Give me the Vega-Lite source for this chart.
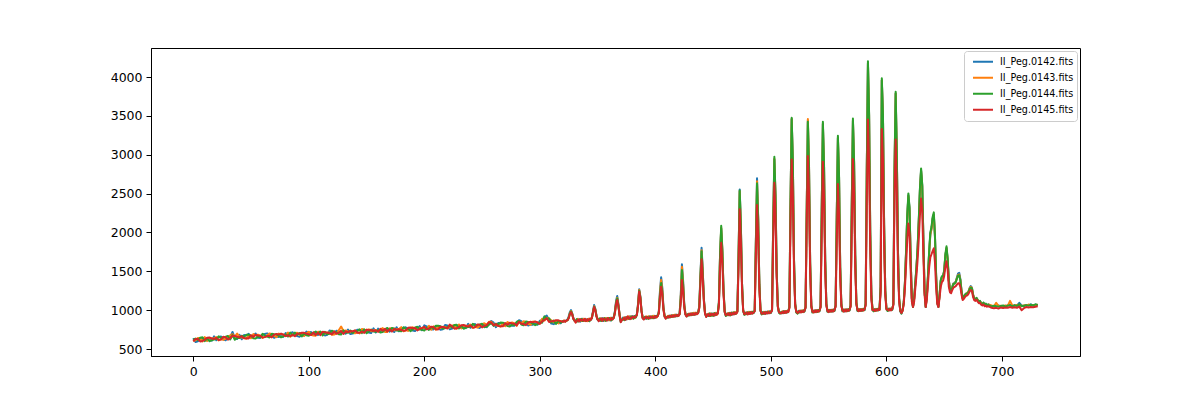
{
"$schema":"https://vega.github.io/schema/vega-lite/v6.json",
"autosize":{"type":"none"},
"width":929,"height":308,
"padding":{"left":151,"top":48,"right":120,"bottom":44},
"background":"white",
"config":{"view":{"stroke":"black","strokeWidth":1},
"axis":{"grid":false,"domainColor":"black","domainWidth":1,"tickColor":"black","tickWidth":1,"tickSize":5,"labelPadding":4,"labelFont":"DejaVu Sans","labelFontSize":12.5,"labelColor":"black","title":null}},
"data":{"values":[
{"x":0,"a":640,"b":605,"c":620,"d":600},{"x":2,"a":589,"b":612,"c":635,"d":629},{"x":4,"a":599,"b":641,"c":614,"d":629},{"x":6,"a":625,"b":638,"c":645,"d":598},{"x":8,"a":640,"b":597,"c":650,"d":604},{"x":10,"a":634,"b":654,"c":602,"d":619},{"x":12,"a":611,"b":604,"c":638,"d":644},{"x":14,"a":620,"b":640,"c":600,"d":648},{"x":16,"a":607,"b":637,"c":614,"d":634},{"x":18,"a":663,"b":636,"c":621,"d":629},{"x":20,"a":613,"b":655,"c":628,"d":643},{"x":22,"a":653,"b":610,"c":663,"d":617},{"x":24,"a":662,"b":627,"c":642,"d":622},{"x":26,"a":624,"b":617,"c":651,"d":657},{"x":28,"a":612,"b":635,"c":658,"d":652},{"x":30,"a":647,"b":660,"c":667,"d":620},{"x":32,"a":654,"b":674,"c":622,"d":639},{"x":34,"a":720,"b":690,"c":680,"d":672},{"x":36,"a":639,"b":659,"c":619,"d":667},{"x":38,"a":629,"b":700,"c":644,"d":659},{"x":40,"a":683,"b":656,"c":641,"d":649},{"x":42,"a":625,"b":648,"c":671,"d":665},{"x":44,"a":679,"b":644,"c":659,"d":639},{"x":46,"a":674,"b":631,"c":684,"d":638},{"x":48,"a":695,"b":676,"c":683,"d":636},{"x":50,"a":645,"b":638,"c":672,"d":678},{"x":52,"a":671,"b":691,"c":639,"d":656},{"x":54,"a":700,"b":674,"c":634,"d":682},{"x":56,"a":644,"b":686,"c":659,"d":674},{"x":58,"a":643,"b":673,"c":650,"d":670},{"x":60,"a":685,"b":642,"c":695,"d":649},{"x":62,"a":693,"b":658,"c":673,"d":653},{"x":64,"a":701,"b":674,"c":659,"d":667},{"x":66,"a":681,"b":701,"c":649,"d":666},{"x":68,"a":677,"b":690,"c":697,"d":650},{"x":70,"a":645,"b":668,"c":691,"d":685},{"x":72,"a":660,"b":653,"c":687,"d":693},{"x":74,"a":656,"b":698,"c":671,"d":686},{"x":76,"a":670,"b":690,"c":650,"d":698},{"x":78,"a":657,"b":687,"c":664,"d":684},{"x":80,"a":705,"b":670,"c":685,"d":665},{"x":82,"a":692,"b":712,"c":660,"d":677},{"x":84,"a":701,"b":658,"c":711,"d":665},{"x":86,"a":716,"b":689,"c":674,"d":682},{"x":88,"a":691,"b":704,"c":711,"d":664},{"x":90,"a":666,"b":708,"c":681,"d":696},{"x":92,"a":659,"b":682,"c":705,"d":699},{"x":94,"a":681,"b":701,"c":661,"d":709},{"x":96,"a":675,"b":668,"c":702,"d":708},{"x":98,"a":725,"b":699,"c":676,"d":696},
{"x":100,"a":703,"b":723,"c":671,"d":688},{"x":102,"a":719,"b":684,"c":699,"d":679},{"x":104,"a":681,"b":674,"c":708,"d":714},{"x":106,"a":715,"b":672,"c":725,"d":679},{"x":108,"a":679,"b":721,"c":694,"d":709},{"x":110,"a":705,"b":718,"c":725,"d":678},{"x":112,"a":694,"b":714,"c":674,"d":722},{"x":114,"a":675,"b":698,"c":721,"d":715},{"x":116,"a":683,"b":713,"c":690,"d":710},{"x":118,"a":738,"b":711,"c":696,"d":704},{"x":120,"a":726,"b":683,"c":736,"d":690},{"x":122,"a":694,"b":687,"c":721,"d":727},{"x":124,"a":736,"b":701,"c":716,"d":696},{"x":126,"a":722,"b":742,"c":690,"d":707},{"x":128,"a":706,"b":790,"c":686,"d":734},{"x":130,"a":720,"b":733,"c":740,"d":693},{"x":132,"a":697,"b":739,"c":712,"d":727},{"x":134,"a":750,"b":723,"c":708,"d":716},{"x":136,"a":692,"b":715,"c":738,"d":732},{"x":138,"a":699,"b":729,"c":706,"d":726},{"x":140,"a":708,"b":701,"c":735,"d":741},{"x":142,"a":749,"b":714,"c":729,"d":709},{"x":144,"a":744,"b":701,"c":754,"d":708},{"x":146,"a":737,"b":757,"c":705,"d":722},{"x":148,"a":734,"b":747,"c":754,"d":707},{"x":150,"a":722,"b":742,"c":702,"d":750},{"x":152,"a":711,"b":753,"c":726,"d":741},{"x":154,"a":705,"b":728,"c":751,"d":745},{"x":156,"a":766,"b":739,"c":724,"d":732},{"x":158,"a":714,"b":744,"c":721,"d":741},{"x":160,"a":762,"b":727,"c":742,"d":722},{"x":162,"a":731,"b":751,"c":711,"d":759},{"x":164,"a":750,"b":770,"c":718,"d":735},{"x":166,"a":726,"b":719,"c":753,"d":759},{"x":168,"a":761,"b":718,"c":771,"d":725},{"x":170,"a":724,"b":766,"c":739,"d":754},{"x":172,"a":751,"b":764,"c":771,"d":724},{"x":174,"a":719,"b":742,"c":765,"d":759},{"x":176,"a":780,"b":753,"c":738,"d":746},{"x":178,"a":728,"b":758,"c":735,"d":755},{"x":180,"a":761,"b":781,"c":729,"d":746},{"x":182,"a":771,"b":728,"c":781,"d":735},{"x":184,"a":779,"b":744,"c":759,"d":739},{"x":186,"a":740,"b":733,"c":767,"d":773},{"x":188,"a":749,"b":769,"c":729,"d":777},{"x":190,"a":738,"b":780,"c":753,"d":768},{"x":192,"a":732,"b":755,"c":778,"d":772},{"x":194,"a":766,"b":779,"c":786,"d":739},{"x":196,"a":794,"b":767,"c":752,"d":760},{"x":198,"a":742,"b":772,"c":749,"d":769},
{"x":200,"a":805,"b":777,"c":737,"d":785},{"x":202,"a":792,"b":757,"c":772,"d":752},{"x":204,"a":778,"b":798,"c":746,"d":763},{"x":206,"a":755,"b":748,"c":782,"d":788},{"x":208,"a":751,"b":793,"c":766,"d":781},{"x":210,"a":790,"b":747,"c":800,"d":754},{"x":212,"a":779,"b":792,"c":799,"d":752},{"x":214,"a":747,"b":770,"c":793,"d":787},{"x":216,"a":755,"b":785,"c":762,"d":782},{"x":218,"a":810,"b":783,"c":768,"d":776},{"x":220,"a":804,"b":769,"c":784,"d":764},{"x":222,"a":753,"b":776,"c":799,"d":815},{"x":224,"a":762,"b":804,"c":777,"d":792},{"x":226,"a":789,"b":802,"c":809,"d":762},{"x":228,"a":803,"b":760,"c":813,"d":767},{"x":230,"a":796,"b":816,"c":764,"d":781},{"x":232,"a":773,"b":766,"c":800,"d":806},{"x":234,"a":781,"b":801,"c":761,"d":809},{"x":236,"a":769,"b":799,"c":776,"d":796},{"x":238,"a":824,"b":797,"c":782,"d":790},{"x":240,"a":773,"b":815,"c":788,"d":803},{"x":242,"a":813,"b":770,"c":823,"d":777},{"x":244,"a":821,"b":786,"c":801,"d":781},{"x":246,"a":783,"b":776,"c":810,"d":816},{"x":248,"a":771,"b":794,"c":817,"d":811},{"x":250,"a":805,"b":818,"c":825,"d":778},{"x":252,"a":812,"b":832,"c":780,"d":797},{"x":254,"a":781,"b":811,"c":788,"d":808},{"x":256,"a":830,"b":850,"c":812,"d":845},{"x":258,"a":860,"b":850,"c":835,"d":840},{"x":260,"a":840,"b":813,"c":798,"d":806},{"x":262,"a":781,"b":804,"c":827,"d":821},{"x":264,"a":836,"b":801,"c":816,"d":796},{"x":266,"a":830,"b":787,"c":840,"d":794},{"x":268,"a":819,"b":832,"c":839,"d":792},{"x":270,"a":800,"b":793,"c":827,"d":833},{"x":272,"a":827,"b":847,"c":795,"d":812},{"x":274,"a":810,"b":830,"c":790,"d":838},{"x":276,"a":800,"b":842,"c":815,"d":830},{"x":278,"a":799,"b":829,"c":806,"d":826},{"x":280,"a":841,"b":798,"c":851,"d":805},{"x":282,"a":870,"b":855,"c":860,"d":850},{"x":284,"a":858,"b":831,"c":816,"d":824},{"x":286,"a":837,"b":857,"c":805,"d":822},{"x":288,"a":834,"b":847,"c":854,"d":807},{"x":290,"a":802,"b":825,"c":848,"d":842},{"x":292,"a":817,"b":810,"c":844,"d":850},{"x":294,"a":813,"b":855,"c":828,"d":843},{"x":296,"a":827,"b":847,"c":807,"d":855},{"x":298,"a":814,"b":844,"c":821,"d":841},
{"x":300,"a":863,"b":828,"c":843,"d":823},{"x":302,"a":870,"b":890,"c":838,"d":855},{"x":304,"a":910,"b":867,"c":920,"d":874},{"x":306,"a":930,"b":903,"c":888,"d":896},{"x":308,"a":875,"b":888,"c":895,"d":848},{"x":310,"a":827,"b":869,"c":842,"d":857},{"x":312,"a":820,"b":843,"c":866,"d":860},{"x":314,"a":842,"b":862,"c":822,"d":870},{"x":316,"a":836,"b":829,"c":863,"d":869},{"x":318,"a":831,"b":861,"c":838,"d":858},
{"x":320,"a":862,"b":850,"c":858,"d":852},{"x":321,"a":860,"b":868,"c":855,"d":865},{"x":322,"a":858,"b":855,"c":862,"d":850},{"x":323,"a":870,"b":862,"c":865,"d":868},{"x":324,"a":882,"b":875,"c":870,"d":872},{"x":325,"a":920,"b":905,"c":900,"d":895},{"x":326,"a":975,"b":960,"c":955,"d":948},{"x":327,"a":1002,"b":990,"c":985,"d":975},{"x":328,"a":960,"b":955,"c":950,"d":945},{"x":329,"a":900,"b":895,"c":890,"d":888},{"x":330,"a":865,"b":870,"c":862,"d":868},{"x":331,"a":860,"b":845,"c":858,"d":840},{"x":332,"a":872,"b":865,"c":885,"d":862},{"x":333,"a":868,"b":888,"c":852,"d":878},{"x":334,"a":885,"b":868,"c":872,"d":855},{"x":335,"a":852,"b":872,"c":868,"d":885},{"x":336,"a":870,"b":860,"c":888,"d":868},{"x":337,"a":890,"b":872,"c":860,"d":878},{"x":338,"a":862,"b":890,"c":865,"d":862},{"x":339,"a":878,"b":860,"c":885,"d":890},{"x":340,"a":865,"b":875,"c":860,"d":858},{"x":341,"a":885,"b":858,"c":878,"d":882},{"x":342,"a":860,"b":890,"c":872,"d":865},{"x":343,"a":890,"b":872,"c":858,"d":888},{"x":344,"a":878,"b":895,"c":875,"d":872},{"x":345,"a":905,"b":900,"c":895,"d":898},{"x":346,"a":985,"b":975,"c":970,"d":968},{"x":347,"a":1066,"b":1050,"c":1045,"d":1040},{"x":348,"a":1020,"b":1010,"c":1005,"d":1000},{"x":349,"a":935,"b":930,"c":925,"d":920},
{"x":350,"a":885,"b":880,"c":878,"d":882},{"x":351,"a":862,"b":888,"c":870,"d":858},{"x":352,"a":890,"b":872,"c":895,"d":875},{"x":353,"a":875,"b":895,"c":860,"d":892},{"x":354,"a":898,"b":868,"c":880,"d":862},{"x":355,"a":860,"b":882,"c":875,"d":895},{"x":356,"a":892,"b":865,"c":898,"d":878},{"x":357,"a":878,"b":900,"c":862,"d":882},{"x":358,"a":900,"b":880,"c":885,"d":865},{"x":359,"a":870,"b":898,"c":878,"d":900},{"x":360,"a":885,"b":868,"c":900,"d":882},{"x":361,"a":868,"b":902,"c":880,"d":875},{"x":362,"a":902,"b":885,"c":868,"d":898},{"x":363,"a":885,"b":890,"c":902,"d":880},{"x":364,"a":910,"b":905,"c":900,"d":902},{"x":365,"a":990,"b":975,"c":970,"d":965},{"x":366,"a":1120,"b":1100,"c":1095,"d":1080},{"x":367,"a":1182,"b":1160,"c":1150,"d":1130},{"x":368,"a":1080,"b":1065,"c":1060,"d":1050},{"x":369,"a":950,"b":945,"c":940,"d":935},{"x":370,"a":860,"b":870,"c":850,"d":845},{"x":371,"a":880,"b":875,"c":870,"d":872},{"x":372,"a":905,"b":885,"c":890,"d":880},{"x":373,"a":888,"b":908,"c":872,"d":902},{"x":374,"a":910,"b":880,"c":895,"d":875},{"x":375,"a":882,"b":912,"c":888,"d":898},{"x":376,"a":905,"b":885,"c":910,"d":920},{"x":377,"a":888,"b":920,"c":905,"d":890},{"x":378,"a":920,"b":900,"c":885,"d":905},{"x":379,"a":902,"b":922,"c":918,"d":888},
{"x":380,"a":925,"b":895,"c":910,"d":912},{"x":381,"a":895,"b":915,"c":890,"d":918},{"x":382,"a":912,"b":898,"c":925,"d":902},{"x":383,"a":920,"b":912,"c":905,"d":915},{"x":384,"a":950,"b":945,"c":940,"d":938},{"x":385,"a":1080,"b":1070,"c":1060,"d":1050},{"x":386,"a":1268,"b":1260,"c":1250,"d":1240},{"x":387,"a":1180,"b":1170,"c":1165,"d":1155},{"x":388,"a":1000,"b":995,"c":990,"d":985},{"x":389,"a":905,"b":910,"c":900,"d":895},{"x":390,"a":890,"b":900,"c":885,"d":880},{"x":391,"a":915,"b":895,"c":910,"d":900},{"x":392,"a":888,"b":920,"c":895,"d":915},{"x":393,"a":910,"b":892,"c":915,"d":898},{"x":394,"a":900,"b":922,"c":888,"d":908},{"x":395,"a":922,"b":905,"c":915,"d":892},{"x":396,"a":895,"b":915,"c":900,"d":920},{"x":397,"a":915,"b":898,"c":922,"d":905},{"x":398,"a":908,"b":928,"c":895,"d":912},{"x":399,"a":928,"b":910,"c":915,"d":898},{"x":400,"a":902,"b":920,"c":908,"d":925},{"x":401,"a":922,"b":905,"c":928,"d":910},{"x":402,"a":930,"b":925,"c":928,"d":922},{"x":403,"a":985,"b":975,"c":965,"d":958},{"x":404,"a":1250,"b":1225,"c":1195,"d":1160},{"x":405,"a":1423,"b":1390,"c":1349,"d":1302},{"x":406,"a":1290,"b":1265,"c":1235,"d":1200},{"x":407,"a":1040,"b":1030,"c":1015,"d":1005},{"x":408,"a":925,"b":930,"c":920,"d":915},{"x":409,"a":900,"b":910,"c":895,"d":890},
{"x":410,"a":915,"b":905,"c":912,"d":908},{"x":411,"a":908,"b":928,"c":902,"d":922},{"x":412,"a":930,"b":912,"c":925,"d":905},{"x":413,"a":912,"b":932,"c":908,"d":928},{"x":414,"a":935,"b":915,"c":930,"d":912},{"x":415,"a":918,"b":938,"c":915,"d":932},{"x":416,"a":938,"b":920,"c":930,"d":915},{"x":417,"a":920,"b":942,"c":918,"d":935},{"x":418,"a":942,"b":925,"c":938,"d":922},{"x":419,"a":925,"b":935,"c":922,"d":940},{"x":420,"a":935,"b":928,"c":932,"d":925},{"x":421,"a":960,"b":955,"c":950,"d":945},{"x":422,"a":1200,"b":1180,"c":1150,"d":1100},{"x":423,"a":1590,"b":1560,"c":1517,"d":1388},{"x":424,"a":1380,"b":1360,"c":1330,"d":1240},{"x":425,"a":1080,"b":1070,"c":1060,"d":1040},{"x":426,"a":950,"b":955,"c":948,"d":945},{"x":427,"a":925,"b":935,"c":920,"d":918},{"x":428,"a":950,"b":932,"c":945,"d":935},{"x":429,"a":935,"b":955,"c":930,"d":950},{"x":430,"a":958,"b":938,"c":952,"d":935},{"x":431,"a":940,"b":960,"c":935,"d":955},{"x":432,"a":960,"b":942,"c":955,"d":938},{"x":433,"a":945,"b":965,"c":940,"d":958},{"x":434,"a":965,"b":948,"c":950,"d":940},{"x":435,"a":948,"b":968,"c":945,"d":962},{"x":436,"a":968,"b":950,"c":962,"d":948},{"x":437,"a":970,"b":965,"c":962,"d":960},{"x":438,"a":1050,"b":1040,"c":1035,"d":1025},{"x":439,"a":1450,"b":1420,"c":1410,"d":1340},
{"x":440,"a":1804,"b":1770,"c":1760,"d":1654},{"x":441,"a":1520,"b":1495,"c":1485,"d":1410},{"x":442,"a":1150,"b":1140,"c":1130,"d":1110},{"x":443,"a":960,"b":965,"c":958,"d":955},{"x":444,"a":920,"b":930,"c":915,"d":912},{"x":445,"a":950,"b":932,"c":938,"d":935},{"x":446,"a":925,"b":955,"c":930,"d":950},{"x":447,"a":955,"b":938,"c":958,"d":925},{"x":448,"a":938,"b":958,"c":925,"d":952},{"x":449,"a":958,"b":930,"c":955,"d":938},{"x":450,"a":930,"b":950,"c":928,"d":955},{"x":451,"a":958,"b":942,"c":962,"d":930},{"x":452,"a":935,"b":965,"c":940,"d":958},{"x":453,"a":962,"b":938,"c":950,"d":942},{"x":454,"a":962,"b":958,"c":960,"d":955},{"x":455,"a":1100,"b":1090,"c":1100,"d":1060},{"x":456,"a":1700,"b":1700,"c":1720,"d":1560},{"x":457,"a":2050,"b":2060,"c":2087,"d":1868},{"x":458,"a":1750,"b":1760,"c":1780,"d":1600},{"x":459,"a":1250,"b":1255,"c":1260,"d":1200},{"x":460,"a":980,"b":985,"c":990,"d":975},{"x":461,"a":930,"b":940,"c":925,"d":935},{"x":462,"a":958,"b":935,"c":950,"d":942},{"x":463,"a":935,"b":962,"c":938,"d":958},{"x":464,"a":965,"b":945,"c":960,"d":935},{"x":465,"a":945,"b":965,"c":932,"d":962},{"x":466,"a":968,"b":948,"c":965,"d":940},{"x":467,"a":945,"b":970,"c":948,"d":965},{"x":468,"a":970,"b":952,"c":972,"d":945},{"x":469,"a":950,"b":975,"c":950,"d":968},
{"x":470,"a":968,"b":958,"c":962,"d":955},{"x":471,"a":990,"b":985,"c":985,"d":978},{"x":472,"a":1700,"b":1690,"c":1695,"d":1560},{"x":473,"a":2555,"b":2530,"c":2540,"d":2298},{"x":474,"a":2100,"b":2080,"c":2090,"d":1900},{"x":475,"a":1350,"b":1340,"c":1345,"d":1280},{"x":476,"a":1000,"b":1005,"c":995,"d":990},{"x":477,"a":945,"b":955,"c":940,"d":950},{"x":478,"a":970,"b":945,"c":962,"d":955},{"x":479,"a":948,"b":972,"c":950,"d":968},{"x":480,"a":975,"b":955,"c":970,"d":945},{"x":481,"a":950,"b":978,"c":955,"d":970},{"x":482,"a":978,"b":955,"c":975,"d":950},{"x":483,"a":958,"b":980,"c":958,"d":975},{"x":484,"a":980,"b":960,"c":978,"d":955},{"x":485,"a":965,"b":975,"c":962,"d":970},{"x":486,"a":1000,"b":995,"c":992,"d":985},{"x":487,"a":1900,"b":1880,"c":1860,"d":1700},{"x":488,"a":2697,"b":2660,"c":2633,"d":2353},{"x":489,"a":2200,"b":2180,"c":2160,"d":1950},{"x":490,"a":1350,"b":1340,"c":1335,"d":1280},{"x":491,"a":1000,"b":1005,"c":998,"d":990},{"x":492,"a":950,"b":960,"c":945,"d":955},{"x":493,"a":975,"b":950,"c":968,"d":958},{"x":494,"a":952,"b":978,"c":955,"d":972},{"x":495,"a":980,"b":958,"c":975,"d":950},{"x":496,"a":958,"b":980,"c":960,"d":975},{"x":497,"a":982,"b":962,"c":978,"d":958},{"x":498,"a":960,"b":985,"c":962,"d":978},{"x":499,"a":985,"b":965,"c":980,"d":960},
{"x":500,"a":968,"b":978,"c":965,"d":972},{"x":501,"a":1010,"b":1005,"c":1008,"d":995},{"x":502,"a":2100,"b":2110,"c":2130,"d":1900},{"x":503,"a":2940,"b":2950,"c":2974,"d":2640},{"x":504,"a":2450,"b":2460,"c":2480,"d":2200},{"x":505,"a":1500,"b":1505,"c":1515,"d":1420},{"x":506,"a":1050,"b":1052,"c":1055,"d":1040},{"x":507,"a":970,"b":975,"c":968,"d":972},{"x":508,"a":960,"b":970,"c":955,"d":965},{"x":509,"a":980,"b":960,"c":975,"d":958},{"x":510,"a":962,"b":985,"c":965,"d":980},{"x":511,"a":988,"b":965,"c":982,"d":962},{"x":512,"a":965,"b":990,"c":968,"d":985},{"x":513,"a":990,"b":970,"c":985,"d":965},{"x":514,"a":972,"b":992,"c":970,"d":988},{"x":515,"a":985,"b":978,"c":982,"d":975},{"x":516,"a":1040,"b":1035,"c":1040,"d":1025},{"x":517,"a":2400,"b":2400,"c":2420,"d":2150},{"x":518,"a":3460,"b":3460,"c":3477,"d":2941},{"x":519,"a":2900,"b":2900,"c":2920,"d":2500},{"x":520,"a":1650,"b":1650,"c":1660,"d":1520},{"x":521,"a":1080,"b":1082,"c":1085,"d":1060},{"x":522,"a":975,"b":985,"c":970,"d":980},{"x":523,"a":960,"b":978,"c":955,"d":965},{"x":524,"a":992,"b":968,"c":985,"d":978},{"x":525,"a":970,"b":995,"c":975,"d":990},{"x":526,"a":995,"b":975,"c":992,"d":970},{"x":527,"a":978,"b":998,"c":975,"d":992},{"x":528,"a":998,"b":980,"c":995,"d":975},{"x":529,"a":985,"b":995,"c":982,"d":990},
{"x":530,"a":1040,"b":1045,"c":1035,"d":1030},{"x":531,"a":2300,"b":2310,"c":2280,"d":2100},{"x":532,"a":3440,"b":3460,"c":3425,"d":2984},{"x":533,"a":2850,"b":2870,"c":2830,"d":2500},{"x":534,"a":1600,"b":1610,"c":1590,"d":1480},{"x":535,"a":1060,"b":1065,"c":1055,"d":1045},{"x":536,"a":975,"b":985,"c":970,"d":980},{"x":537,"a":995,"b":972,"c":990,"d":970},{"x":538,"a":975,"b":998,"c":975,"d":995},{"x":539,"a":1000,"b":980,"c":995,"d":975},{"x":540,"a":980,"b":1002,"c":978,"d":998},{"x":541,"a":1002,"b":982,"c":1000,"d":980},{"x":542,"a":988,"b":998,"c":985,"d":992},{"x":543,"a":1050,"b":1045,"c":1050,"d":1035},{"x":544,"a":2300,"b":2300,"c":2320,"d":2000},{"x":545,"a":3400,"b":3400,"c":3425,"d":2910},{"x":546,"a":2850,"b":2850,"c":2870,"d":2450},{"x":547,"a":1650,"b":1650,"c":1660,"d":1500},{"x":548,"a":1080,"b":1078,"c":1085,"d":1060},{"x":549,"a":985,"b":995,"c":980,"d":990},{"x":550,"a":1002,"b":980,"c":998,"d":975},{"x":551,"a":982,"b":1005,"c":980,"d":1000},{"x":552,"a":1005,"b":985,"c":1002,"d":980},{"x":553,"a":985,"b":1008,"c":982,"d":1002},{"x":554,"a":1008,"b":988,"c":1005,"d":982},{"x":555,"a":995,"b":1005,"c":990,"d":1000},{"x":556,"a":1060,"b":1055,"c":1060,"d":1045},{"x":557,"a":2200,"b":2200,"c":2220,"d":1850},{"x":558,"a":3220,"b":3220,"c":3245,"d":2624},{"x":559,"a":2700,"b":2700,"c":2720,"d":2230},
{"x":560,"a":1550,"b":1550,"c":1560,"d":1420},{"x":561,"a":1070,"b":1072,"c":1075,"d":1055},{"x":562,"a":990,"b":1000,"c":985,"d":995},{"x":563,"a":1008,"b":985,"c":1005,"d":982},{"x":564,"a":985,"b":1010,"c":988,"d":1005},{"x":565,"a":1010,"b":988,"c":1008,"d":985},{"x":566,"a":990,"b":1012,"c":988,"d":1008},{"x":567,"a":1012,"b":992,"c":1010,"d":990},{"x":568,"a":998,"b":1008,"c":995,"d":1002},{"x":569,"a":1060,"b":1055,"c":1065,"d":1045},{"x":570,"a":2350,"b":2350,"c":2370,"d":2050},{"x":571,"a":3440,"b":3440,"c":3468,"d":2945},{"x":572,"a":2900,"b":2900,"c":2920,"d":2500},{"x":573,"a":1700,"b":1700,"c":1710,"d":1550},{"x":574,"a":1090,"b":1092,"c":1095,"d":1075},{"x":575,"a":995,"b":1005,"c":990,"d":1000},{"x":576,"a":1012,"b":990,"c":1008,"d":988},{"x":577,"a":992,"b":1015,"c":990,"d":1010},{"x":578,"a":1015,"b":995,"c":1012,"d":990},{"x":579,"a":995,"b":1018,"c":992,"d":1012},{"x":580,"a":1018,"b":998,"c":1015,"d":995},{"x":581,"a":1002,"b":1012,"c":1000,"d":1008},{"x":582,"a":1080,"b":1075,"c":1085,"d":1060},{"x":583,"a":2800,"b":2800,"c":2830,"d":2400},{"x":584,"a":4180,"b":4180,"c":4206,"d":3456},{"x":585,"a":3500,"b":3500,"c":3530,"d":2900},{"x":586,"a":2000,"b":2000,"c":2020,"d":1750},{"x":587,"a":1180,"b":1180,"c":1190,"d":1130},{"x":588,"a":1005,"b":1010,"c":1000,"d":1000},{"x":589,"a":990,"b":1010,"c":985,"d":1005},
{"x":590,"a":1015,"b":992,"c":1010,"d":990},{"x":591,"a":995,"b":1018,"c":992,"d":1012},{"x":592,"a":1018,"b":998,"c":1015,"d":995},{"x":593,"a":1000,"b":1020,"c":998,"d":1015},{"x":594,"a":1012,"b":1005,"c":1010,"d":1002},{"x":595,"a":1300,"b":1300,"c":1310,"d":1230},{"x":596,"a":3960,"b":3960,"c":3984,"d":3331},{"x":597,"a":3500,"b":3500,"c":3520,"d":2950},{"x":598,"a":2100,"b":2100,"c":2110,"d":1850},{"x":599,"a":1250,"b":1250,"c":1255,"d":1190},{"x":600,"a":1020,"b":1025,"c":1018,"d":1010},{"x":601,"a":995,"b":1015,"c":990,"d":1010},{"x":602,"a":1020,"b":998,"c":1015,"d":995},{"x":603,"a":1000,"b":1022,"c":998,"d":1018},{"x":604,"a":1022,"b":1002,"c":1018,"d":998},{"x":605,"a":1008,"b":1018,"c":1005,"d":1012},{"x":606,"a":1080,"b":1075,"c":1085,"d":1065},{"x":607,"a":2800,"b":2800,"c":2820,"d":2450},{"x":608,"a":3790,"b":3790,"c":3811,"d":3196},{"x":609,"a":3000,"b":3000,"c":3020,"d":2550},{"x":610,"a":1750,"b":1750,"c":1760,"d":1560},{"x":611,"a":1150,"b":1150,"c":1155,"d":1110},{"x":612,"a":990,"b":1000,"c":985,"d":990},{"x":613,"a":960,"b":970,"c":955,"d":965},{"x":614,"a":1000,"b":995,"c":1005,"d":990},{"x":615,"a":1100,"b":1095,"c":1105,"d":1080},{"x":616,"a":1350,"b":1340,"c":1360,"d":1280},{"x":617,"a":1750,"b":1740,"c":1760,"d":1580},{"x":618,"a":2200,"b":2190,"c":2220,"d":1900},{"x":619,"a":2480,"b":2470,"c":2503,"d":2117},
{"x":620,"a":2300,"b":2290,"c":2320,"d":1980},{"x":621,"a":1650,"b":1640,"c":1660,"d":1500},{"x":622,"a":1150,"b":1145,"c":1155,"d":1110},{"x":623,"a":1045,"b":1050,"c":1040,"d":1040},{"x":624,"a":1150,"b":1145,"c":1150,"d":1110},{"x":625,"a":1350,"b":1340,"c":1355,"d":1280},{"x":626,"a":1550,"b":1540,"c":1560,"d":1450},{"x":627,"a":1800,"b":1790,"c":1810,"d":1650},{"x":628,"a":2150,"b":2140,"c":2165,"d":1920},{"x":629,"a":2550,"b":2540,"c":2570,"d":2220},{"x":630,"a":2800,"b":2790,"c":2825,"d":2437},{"x":631,"a":2600,"b":2590,"c":2620,"d":2280},{"x":632,"a":1900,"b":1890,"c":1910,"d":1700},{"x":633,"a":1250,"b":1245,"c":1255,"d":1200},{"x":634,"a":1045,"b":1050,"c":1040,"d":1040},{"x":635,"a":1180,"b":1175,"c":1185,"d":1140},{"x":636,"a":1450,"b":1440,"c":1460,"d":1350},{"x":637,"a":1750,"b":1740,"c":1760,"d":1550},{"x":638,"a":1980,"b":1970,"c":2000,"d":1680},{"x":639,"a":2050,"b":2040,"c":2070,"d":1720},{"x":640,"a":2180,"b":2170,"c":2200,"d":1760},{"x":641,"a":2230,"b":2230,"c":2259,"d":1796},{"x":642,"a":1950,"b":1950,"c":1970,"d":1620},{"x":643,"a":1450,"b":1450,"c":1460,"d":1300},{"x":644,"a":1100,"b":1105,"c":1095,"d":1080},{"x":645,"a":1045,"b":1050,"c":1040,"d":1040},{"x":646,"a":1200,"b":1195,"c":1205,"d":1160},{"x":647,"a":1380,"b":1370,"c":1385,"d":1300},{"x":648,"a":1430,"b":1425,"c":1435,"d":1360},{"x":649,"a":1440,"b":1435,"c":1445,"d":1380},
{"x":650,"a":1500,"b":1495,"c":1510,"d":1440},{"x":651,"a":1700,"b":1700,"c":1720,"d":1560},{"x":652,"a":1800,"b":1800,"c":1822,"d":1629},{"x":653,"a":1650,"b":1650,"c":1665,"d":1520},{"x":654,"a":1380,"b":1380,"c":1390,"d":1300},{"x":655,"a":1270,"b":1275,"c":1265,"d":1230},{"x":656,"a":1260,"b":1262,"c":1255,"d":1220},{"x":657,"a":1300,"b":1298,"c":1295,"d":1260},{"x":658,"a":1345,"b":1340,"c":1338,"d":1290},{"x":659,"a":1350,"b":1345,"c":1340,"d":1300},{"x":660,"a":1370,"b":1365,"c":1360,"d":1310},{"x":661,"a":1420,"b":1410,"c":1405,"d":1330},{"x":662,"a":1470,"b":1455,"c":1445,"d":1345},{"x":663,"a":1481,"b":1460,"c":1450,"d":1345},{"x":664,"a":1400,"b":1390,"c":1385,"d":1300},{"x":665,"a":1250,"b":1245,"c":1240,"d":1200},{"x":666,"a":1155,"b":1160,"c":1150,"d":1130},{"x":667,"a":1170,"b":1165,"c":1172,"d":1145},{"x":668,"a":1200,"b":1195,"c":1198,"d":1170},{"x":669,"a":1215,"b":1210,"c":1212,"d":1185},{"x":670,"a":1220,"b":1225,"c":1215,"d":1190},{"x":671,"a":1240,"b":1235,"c":1232,"d":1210},{"x":672,"a":1285,"b":1280,"c":1270,"d":1240},{"x":673,"a":1311,"b":1300,"c":1290,"d":1259},{"x":674,"a":1290,"b":1285,"c":1280,"d":1250},{"x":675,"a":1200,"b":1200,"c":1195,"d":1170},{"x":676,"a":1150,"b":1152,"c":1145,"d":1130},{"x":677,"a":1140,"b":1145,"c":1135,"d":1120},{"x":678,"a":1155,"b":1150,"c":1158,"d":1135},{"x":679,"a":1130,"b":1135,"c":1128,"d":1110},
{"x":680,"a":1110,"b":1105,"c":1115,"d":1090},{"x":681,"a":1120,"b":1115,"c":1118,"d":1095},{"x":682,"a":1090,"b":1095,"c":1085,"d":1070},{"x":683,"a":1080,"b":1085,"c":1078,"d":1060},{"x":684,"a":1095,"b":1090,"c":1098,"d":1075},{"x":685,"a":1070,"b":1075,"c":1068,"d":1050},{"x":686,"a":1080,"b":1072,"c":1085,"d":1058},{"x":687,"a":1060,"b":1068,"c":1055,"d":1045},{"x":688,"a":1075,"b":1070,"c":1072,"d":1050},{"x":689,"a":1065,"b":1072,"c":1060,"d":1045},{"x":691,"a":1050,"b":1060,"c":1048,"d":1030},{"x":693,"a":1055,"b":1048,"c":1058,"d":1025},{"x":695,"a":1045,"b":1095,"c":1050,"d":1030},{"x":697,"a":1060,"b":1052,"c":1045,"d":1020},{"x":699,"a":1048,"b":1058,"c":1055,"d":1035},{"x":701,"a":1055,"b":1050,"c":1060,"d":1028},{"x":703,"a":1050,"b":1062,"c":1045,"d":1035},{"x":705,"a":1062,"b":1055,"c":1058,"d":1030},{"x":707,"a":1070,"b":1120,"c":1065,"d":1040},{"x":709,"a":1052,"b":1060,"c":1050,"d":1032},{"x":711,"a":1065,"b":1058,"c":1062,"d":1038},{"x":713,"a":1058,"b":1068,"c":1055,"d":1030},{"x":715,"a":1095,"b":1070,"c":1075,"d":1045},{"x":717,"a":1060,"b":1055,"c":1050,"d":1000},{"x":719,"a":1050,"b":1062,"c":1058,"d":1025},{"x":721,"a":1068,"b":1060,"c":1065,"d":1040},{"x":723,"a":1062,"b":1072,"c":1058,"d":1035},{"x":725,"a":1075,"b":1065,"c":1070,"d":1042},{"x":727,"a":1058,"b":1068,"c":1062,"d":1038},{"x":729,"a":1072,"b":1065,"c":1075,"d":1045},{"x":731,"a":1068,"b":1075,"c":1065,"d":1050}
]},
"transform":[{"fold":["a","b","c","d"],"as":["s","v"]}],
"mark":{"type":"line","strokeWidth":2,"strokeJoin":"round","clip":true},
"encoding":{
"x":{"field":"x","type":"quantitative","scale":{"domain":[-36.55,767.55],"nice":false,"zero":false},"axis":{"values":[0,100,200,300,400,500,600,700],"format":"d"}},
"y":{"field":"v","type":"quantitative","scale":{"domain":[410,4375],"nice":false,"zero":false},"axis":{"values":[500,1000,1500,2000,2500,3000,3500,4000],"format":"d"}},
"color":{"field":"s","type":"nominal","scale":{"domain":["a","b","c","d"],"range":["#1f77b4","#ff7f0e","#2ca02c","#d62728"]},
"legend":{"title":null,"orient":"top-right","offset":3,"fillColor":"white","strokeColor":"#cccccc","cornerRadius":3,"padding":3,"symbolType":"stroke","symbolSize":400,"symbolStrokeWidth":2,"symbolOffset":5,"clipHeight":15.6,"rowPadding":0,"labelOffset":6,"labelFont":"DejaVu Sans","labelFontSize":9.6,"labelColor":"black","labelExpr":"{'a':'II_Peg.0142.fits','b':'II_Peg.0143.fits','c':'II_Peg.0144.fits','d':'II_Peg.0145.fits'}[datum.label]"}}
}
}
